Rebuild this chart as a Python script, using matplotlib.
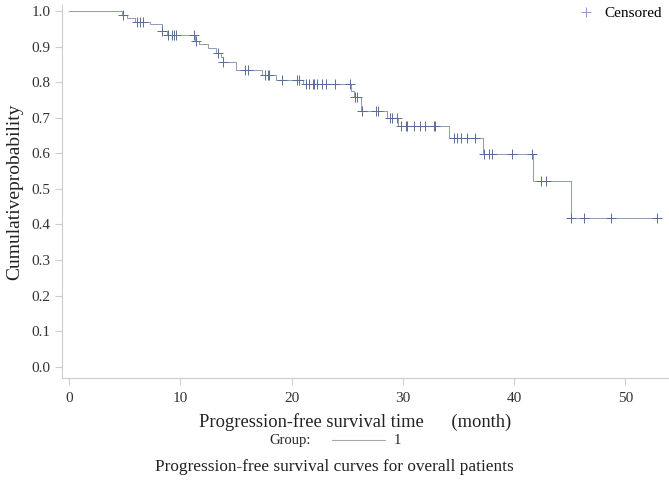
import numpy as np
import matplotlib
matplotlib.use("Agg")
import matplotlib.pyplot as plt
from matplotlib.lines import Line2D

plt.rcParams['font.family'] = ['Liberation Serif', 'DejaVu Serif']

# step function: event times and survival just after each event
event_times = [4.7, 5.2, 5.9, 7.3, 8.3, 8.8, 11.3, 11.7, 12.5, 13.2, 13.6, 13.8,
               15.0, 17.3, 18.6, 21.0, 25.3, 25.6, 26.2, 28.6, 29.6, 34.1,
               37.2, 41.7, 45.1]
surv_after = [0.990, 0.980, 0.970, 0.962, 0.945, 0.932, 0.917, 0.907, 0.895, 0.883,
              0.870, 0.858, 0.835, 0.820, 0.807, 0.794, 0.775, 0.757, 0.718, 0.700,
              0.677, 0.643, 0.598, 0.522, 0.417]
t_end = 53.2

censor_times = [4.8, 6.1, 6.4, 6.6, 8.3, 8.9, 9.2, 9.4, 9.6, 11.2, 11.4, 13.4, 13.8,
                15.8, 16.1, 17.6, 17.9, 18.0, 19.1, 20.5, 20.7, 21.3, 21.6, 21.9,
                22.0, 22.3, 22.7, 23.1, 23.9, 25.2, 25.7, 25.9, 26.3, 27.6, 27.8,
                28.8, 29.0, 29.5, 29.8, 30.3, 30.4, 31.0, 31.5, 32.0, 32.8, 32.9,
                34.6, 34.9, 35.2, 35.8, 36.5, 37.3, 37.7, 38.0, 39.8, 41.6, 42.4,
                42.9, 45.1, 46.3, 48.7, 52.8]

x_ticks = [0, 10, 20, 30, 40, 50]
y_ticks = [0.0, 0.1, 0.2, 0.3, 0.4, 0.5, 0.6, 0.7, 0.8, 0.9, 1.0]

line_col = '#939fb6'
mark_col = '#5a6d98'
axis_col = '#cccccc'

fig = plt.figure(figsize=(6.69, 4.92), dpi=100)
ax = fig.add_axes([0.093, 0.232, 0.905, 0.758])

xs = np.concatenate([[0.0], event_times, [t_end]])
ys = np.concatenate([[1.0], surv_after, [surv_after[-1]]])
ax.step(xs, ys, where='post', color=line_col, lw=0.75)

# survival value at each censor time
idx = np.searchsorted(event_times, censor_times, side='right')
cy = np.concatenate([[1.0], surv_after])[idx]
ax.plot(censor_times, cy, ls='none', marker='+', ms=6.5, mew=0.7, color=mark_col)

ax.set_xlim(-0.63, 53.8)
ax.set_ylim(-0.031, 1.017)
ax.set_xticks(x_ticks)
ax.set_yticks(y_ticks)
ax.set_yticklabels([f"{v:.1f}" for v in y_ticks])
for s in ['top', 'right']:
    ax.spines[s].set_visible(False)
for s in ['left', 'bottom']:
    ax.spines[s].set_color(axis_col)
    ax.spines[s].set_linewidth(0.8)
ax.tick_params(colors=axis_col, labelcolor='#333333', labelsize=11, length=5, width=0.8)
ax.tick_params(axis='x', pad=5)

ax.set_ylabel('Cumulativeprobability', fontsize=14, color='#222222', labelpad=6)
ax.set_xlabel('Progression-free survival time      (month)', fontsize=13.3,
              color='#222222')
ax.xaxis.set_label_coords(0.484, -0.095)

# censored legend, top right
ax.legend([Line2D([], [], ls='none', marker='+', ms=6.5, mew=0.7, color='#8a9bc0')],
          ['Censored'], loc='upper right', frameon=False, fontsize=11,
          handletextpad=0.2, borderaxespad=0.0, bbox_to_anchor=(1.0, 1.012))

# group legend below the axis
fig.text(0.465, 0.105, 'Group:', fontsize=10.5, ha='right', va='center', color='#222222')
fig.add_artist(Line2D([0.497, 0.576], [0.105, 0.105], color='#a8a8a8', lw=0.8))
fig.text(0.588, 0.105, '1', fontsize=10.5, ha='left', va='center', color='#222222')

fig.text(0.5, 0.05, 'Progression-free survival curves for overall patients',
         fontsize=12.4, ha='center', va='center', color='#222222')

fig.savefig('out.png', dpi=100)
